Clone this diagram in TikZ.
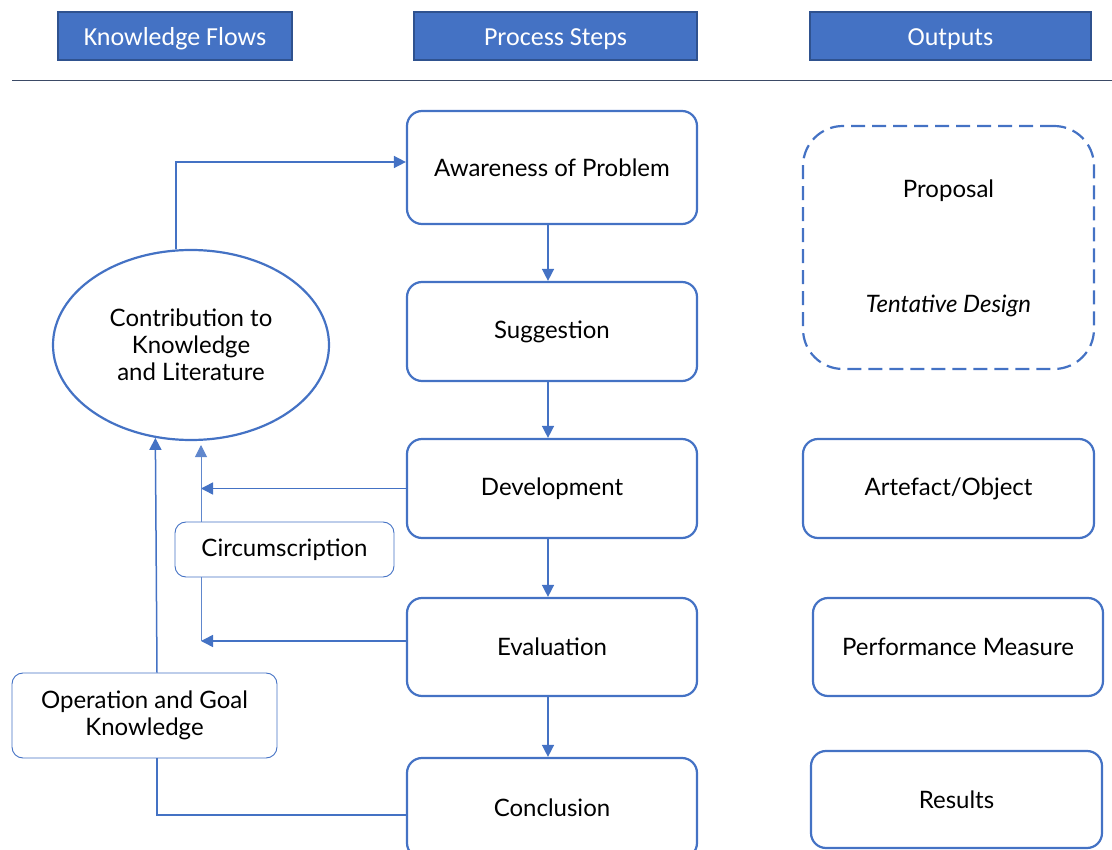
\documentclass[tikz,border=0pt]{standalone}
\usepackage{fontspec}
\setmainfont{Lato}
\newfontfamily\headfont{Carlito}
\usetikzlibrary{arrows.meta,shapes.geometric}
\definecolor{accent}{HTML}{4472C4}
\definecolor{accentdark}{HTML}{2F528F}
\definecolor{rulecol}{HTML}{3B4A66}
\begin{document}
\begin{tikzpicture}[x=1pt,y=-1pt,
  txt/.style={font=\fontsize{24}{27}\selectfont, text=black, align=center},
  header/.style={draw=accentdark, line width=1.2pt, fill=accent, text=white,
    font=\headfont\fontsize{26}{30}\selectfont, minimum height=48pt, inner sep=0pt,
    text height=22pt, text depth=2.6pt},
  procbox/.style={txt, draw=accent, line width=2.2pt, rounded corners=15pt,
    minimum width=290pt, inner sep=0pt},
  outbox/.style={txt, draw=accent, line width=2.2pt, rounded corners=15pt,
    minimum width=291pt, inner sep=0pt},
  thinbox/.style={txt, draw=accent, line width=0.9pt, rounded corners=11pt, inner sep=0pt},
  conn/.style={draw=accent, line width=1.5pt},
  arr/.style={conn, -{Triangle[length=12pt,width=12pt]}},
  thinconn/.style={draw=accent!85, line width=1pt},
  thinarr/.style={thinconn, -{Triangle[length=12pt,width=12pt]}}
]
\useasboundingbox (0,0) rectangle (1112,850);
\clip (0,0) rectangle (1112,850);

% column headings
\node[header, minimum width=234pt] (hkf) at (175,36) {Knowledge Flows};
\node[header, minimum width=283pt] (hps) at (555.5,36) {Process Steps};
\node[header, minimum width=281pt] (hout) at (950.5,36) {Outputs};
\draw[rulecol, line width=1pt] (12,81) -- (1112,81);

% process steps
\node[procbox, minimum height=113pt] (aw) at (552,167.5) {Awareness of Problem};
\node[procbox, minimum height=99pt] (sg) at (552,331.5) {Suggestion};
\node[procbox, minimum height=99pt] (dev) at (552,488.5) {Development};
\node[procbox, minimum height=98pt] (ev) at (552,647) {Evaluation};
\node[procbox, minimum height=100pt] (con) at (552,808) {Conclusion};

% outputs
\node[outbox, dashed, dash pattern=on 14pt off 7pt, rounded corners=40pt,
  minimum height=243pt] (prop) at (948.5,247.5) {};
\node[txt] (proptxt) at (948.5,191) {Proposal};
\node[txt, font=\fontsize{24}{27}\selectfont\itshape] (tent) at (948.5,306) {Tentative Design};
\node[outbox, minimum height=99pt] (art) at (948.5,488.5) {Artefact/Object};
\node[outbox, minimum width=290pt, minimum height=98pt] (perf) at (958,647) {Performance Measure};
\node[outbox, minimum height=97pt] (res) at (956.5,799.5) {Results};

% knowledge flows
\node[ellipse, draw=accent, line width=2.2pt, minimum width=276pt, minimum height=190pt,
  inner sep=0pt, txt] (ell) at (191,345) {Contribution to\\Knowledge\\and Literature};
\node[thinbox, minimum width=219pt, minimum height=55pt] (circ) at (284.5,549.5) {Circumscription};
\node[thinbox, minimum width=265pt, minimum height=85pt] (ok) at (144.5,715.5) {Operation and Goal\\Knowledge};

\coordinate (cl) at (201,0);
\coordinate (kl) at (157,0);
\coordinate (ctop) at (201,445);

% connectors
\draw[arr] (ell.99.6) |- ([yshift=5.5pt]aw.west);
\draw[arr] ([xshift=-4pt]aw.south) -- ([xshift=-4pt]sg.north);
\draw[arr] ([xshift=-4pt]sg.south) -- ([xshift=-4pt]dev.north);
\draw[arr] ([xshift=-4pt]dev.south) -- ([xshift=-4pt]ev.north);
\draw[arr] ([xshift=-4pt]ev.south) -- ([xshift=-4pt]con.north);

\draw[arr] (dev.west) -- (dev.west -| cl);
\draw[arr] ([yshift=6pt]ev.west) -- ([yshift=6pt]ev.west -| cl);
\draw[thinarr] (circ.north -| cl) -- (ctop);
\draw[thinconn] (circ.south -| cl) -- ([yshift=6pt]ev.west -| cl);

\draw[conn] ([yshift=-7pt]con.west) -| (ok.south -| kl);
\draw[arr] (ok.north -| kl) -- (ell.249.7);
\end{tikzpicture}
\end{document}
